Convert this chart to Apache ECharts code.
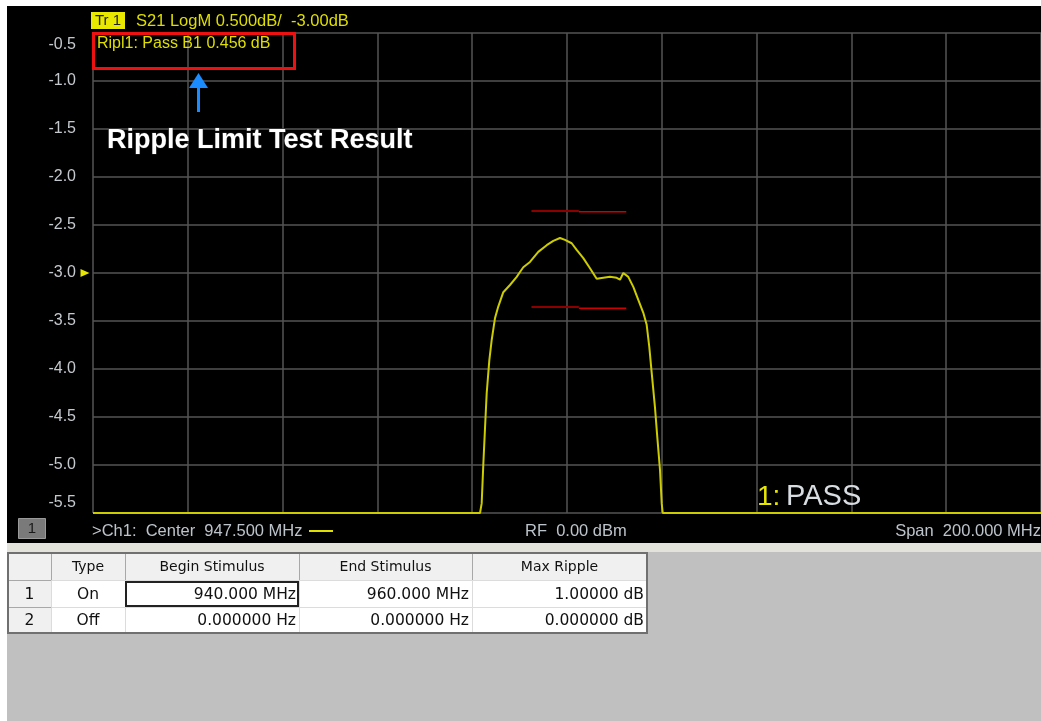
<!DOCTYPE html>
<html><head><meta charset="utf-8">
<script src="https://cdn.jsdelivr.net/npm/echarts@6/dist/echarts.min.js"></script>
<style>html,body{margin:0;padding:0;background:#fff;overflow:hidden}#c{width:1041px;height:721px}</style>
</head><body><div id="c"></div>
<script>
// ---- data ----
const freqMHz = [847.5, 929.15, 929.5, 929.84, 930.2, 930.56, 931.11, 931.61, 932.31, 933.0, 934.06, 935.47, 936.89, 937.58, 938.28, 939.69, 941.44, 943.22, 944.61, 946.02, 947.08, 948.49, 949.54, 950.94, 952.35, 953.76, 955.16, 956.57, 957.98, 958.68, 959.38, 960.43, 961.49, 962.54, 963.6, 964.31, 964.86, 965.37, 966.06, 966.55, 967.12, 967.48, 967.69, 1047.5];
const s21dB = [-5.5, -5.5, -5.40, -5.0, -4.62, -4.25, -3.91, -3.70, -3.47, -3.35, -3.20, -3.125, -3.04, -2.99, -2.94, -2.885, -2.78, -2.71, -2.665, -2.635, -2.655, -2.69, -2.76, -2.845, -2.95, -3.06, -3.05, -3.04, -3.05, -3.07, -3.0, -3.04, -3.145, -3.28, -3.415, -3.54, -3.77, -4.04, -4.40, -4.71, -5.05, -5.40, -5.5, -5.5];
const limitSegFreq = [[940, 950], [950, 960]];
const limitUpperdB = [-2.355, -2.362];
const limitLowerdB = [-3.354, -3.368];
const refLevel = -3.0;
const yTickValues = [-5.5, -5.0, -4.5, -4.0, -3.5, -3.0, -2.5, -2.0, -1.5, -1.0, -0.5];
const yTickLabels = ['-5.5', '-5.0', '-4.5', '-4.0', '-3.5', '-3.0', '-2.5', '-2.0', '-1.5', '-1.0', '-0.5'];
const xStartMHz = 847.5, xStopMHz = 1047.5, xDivMHz = 20;
const traceTitle = 'S21 LogM 0.500dB/  -3.00dB';
const rippleResult = 'Ripl1: Pass B1 0.456 dB';
const annotation = 'Ripple Limit Test Result';
const statusCenter = '>Ch1:  Center  947.500 MHz';
const statusRF = 'RF  0.00 dBm';
const statusSpan = 'Span  200.000 MHz';
const tableHeader = ['', 'Type', 'Begin Stimulus', 'End Stimulus', 'Max Ripple'];
const tableRows = [
  ['1', 'On', '940.000 MHz', '960.000 MHz', '1.00000 dB'],
  ['2', 'Off', '0.000000 Hz', '0.000000 Hz', '0.000000 dB']
];

// ---- layout ----
const chart = echarts.init(document.getElementById('c'), null, {renderer: 'canvas'});
const g = [];
g.push({type: 'rect', z: -10, silent: true, shape: {x: 7, y: 6, width: 1034, height: 537}, style: {fill: '#000'}});
g.push({type: 'rect', z: -10, silent: true, shape: {x: 7, y: 543, width: 1034, height: 9}, style: {fill: '#e4e3db'}});
g.push({type: 'rect', z: -10, silent: true, shape: {x: 7, y: 552, width: 1034, height: 169}, style: {fill: '#c0c0c0'}});
// header
g.push({type: 'rect', shape: {x: 91, y: 12, width: 34, height: 17}, style: {fill: '#e8e800'}});
g.push({type: 'text', x: 108, y: 21, style: {text: 'Tr 1', fill: '#222', font: '15px "Liberation Sans", Arial, sans-serif', align: 'center', verticalAlign: 'middle'}});
g.push({type: 'text', x: 136, y: 21, style: {text: traceTitle, fill: '#dede00', font: '16.5px "Liberation Sans", Arial, sans-serif', align: 'left', verticalAlign: 'middle'}});
g.push({type: 'text', x: 97, y: 44, z: 10, style: {text: rippleResult, fill: '#dede00', font: '16px "Liberation Sans", Arial, sans-serif', align: 'left', verticalAlign: 'middle'}});
g.push({type: 'rect', z: 10, shape: {x: 93.5, y: 33.5, width: 201, height: 35}, style: {fill: 'none', stroke: '#ee1111', lineWidth: 3}});
// blue arrow
g.push({type: 'rect', z: 10, shape: {x: 197, y: 84, width: 3, height: 28}, style: {fill: '#1a8cff'}});
g.push({type: 'polygon', z: 10, shape: {points: [[189, 88], [198.5, 73], [208, 88]]}, style: {fill: '#1a8cff'}});
g.push({type: 'text', x: 107, y: 141, z: 10, style: {text: annotation, fill: '#fff', font: 'bold 27px "Liberation Sans", Arial, sans-serif', align: 'left', verticalAlign: 'middle', stroke: '#222', lineWidth: 1}});
// PASS
g.push({type: 'text', x: 757, y: 497, z: 10, style: {text: '1:', fill: '#e6e600', font: '28px "Liberation Sans", Arial, sans-serif', align: 'left', verticalAlign: 'middle'}});
g.push({type: 'text', x: 786, y: 497, z: 10, style: {text: 'PASS', fill: '#d8dde2', font: '29px "Liberation Sans", Arial, sans-serif', align: 'left', verticalAlign: 'middle'}});
// status bar
g.push({type: 'rect', shape: {x: 18.5, y: 518.5, width: 27, height: 20}, style: {fill: '#7a7a7a', stroke: '#9a9a9a', lineWidth: 1}});
g.push({type: 'text', x: 32, y: 529, style: {text: '1', fill: '#1a1a1a', font: '15px "Liberation Sans", Arial, sans-serif', align: 'center', verticalAlign: 'middle'}});
g.push({type: 'text', x: 92, y: 531, style: {text: statusCenter, fill: '#bcc3ca', font: '16.5px "Liberation Sans", Arial, sans-serif', align: 'left', verticalAlign: 'middle'}});
g.push({type: 'rect', shape: {x: 309, y: 530, width: 24, height: 2}, style: {fill: '#e0e000'}});
g.push({type: 'text', x: 525, y: 531, style: {text: statusRF, fill: '#bcc3ca', font: '16.5px "Liberation Sans", Arial, sans-serif', align: 'left', verticalAlign: 'middle'}});
g.push({type: 'text', x: 1041, y: 531, style: {text: statusSpan, fill: '#bcc3ca', font: '16.5px "Liberation Sans", Arial, sans-serif', align: 'right', verticalAlign: 'middle'}});
// table
const colX = [8, 51, 125, 299, 472, 647];
const rowY = [553, 580, 607, 633];
const allRows = [tableHeader].concat(tableRows);
for (let r = 0; r < allRows.length; r++) {
  for (let c = 0; c < 5; c++) {
    const isHead = r === 0 || c === 0;
    g.push({type: 'rect', shape: {x: colX[c] + 0.5, y: rowY[r] + 0.5, width: colX[c + 1] - colX[c], height: rowY[r + 1] - rowY[r]},
      style: {fill: isHead ? '#f0f0f0' : '#fff', stroke: isHead ? '#a8a8a8' : '#dcdcdc', lineWidth: 1}});
    const txt = allRows[r][c];
    if (!txt) continue;
    const right = r > 0 && c >= 2;
    g.push({type: 'text', x: right ? colX[c + 1] - 3 : (colX[c] + colX[c + 1]) / 2, y: (rowY[r] + rowY[r + 1]) / 2 + 1,
      style: {text: txt, fill: '#111', font: (r === 0 ? '14px' : '15.5px') + ' "DejaVu Sans", Verdana, sans-serif',
        align: right ? 'right' : 'center', verticalAlign: 'middle'}});
  }
}
g.push({type: 'rect', shape: {x: 8, y: 553, width: 639, height: 80}, style: {fill: 'none', stroke: '#707070', lineWidth: 2}});
g.push({type: 'rect', shape: {x: 126, y: 582, width: 172, height: 24}, style: {fill: 'none', stroke: '#222', lineWidth: 2}});

const trace = freqMHz.map((f, i) => [f, s21dB[i]]);
const limitSeries = [];
limitSegFreq.forEach((seg, i) => {
  const col = i === 0 ? '#8c0000' : '#d00000';
  const w = i === 0 ? 2 : 1.5;
  limitSeries.push({type: 'line', data: [[seg[0], limitUpperdB[i]], [seg[1], limitUpperdB[i]]], showSymbol: false, silent: true, lineStyle: {color: col, width: w}, z: 3});
  limitSeries.push({type: 'line', data: [[seg[0], limitLowerdB[i]], [seg[1], limitLowerdB[i]]], showSymbol: false, silent: true, lineStyle: {color: col, width: w}, z: 3});
});

chart.setOption({
  backgroundColor: '#fff',
  animation: false,
  grid: {left: 93, top: 33, width: 948, height: 480, containLabel: false},
  xAxis: {type: 'value', min: xStartMHz, max: xStopMHz, interval: xDivMHz,
    axisLabel: {show: false}, axisTick: {show: false}, axisLine: {show: false},
    splitLine: {show: true, lineStyle: {color: '#555', width: 1.5}}},
  yAxis: {type: 'value', min: yTickValues[0], max: yTickValues[yTickValues.length - 1], interval: 0.5,
    axisTick: {show: false}, axisLine: {show: false},
    splitLine: {show: true, lineStyle: {color: '#555', width: 1.5}},
    axisLabel: {margin: 17, color: '#c4c9ce', fontSize: 16, fontFamily: '"Liberation Sans", Arial, sans-serif',
      formatter: function (v) {
        const i = yTickValues.findIndex(t => Math.abs(t - v) < 1e-6);
        const s = i >= 0 ? yTickLabels[i] : '';
        if (i === yTickValues.length - 1) return '{t|' + s + '}';
        if (i === 0) return '{b|' + s + '}';
        return s;
      },
      rich: {
        t: {color: '#c4c9ce', fontSize: 16, fontFamily: '"Liberation Sans", Arial, sans-serif', padding: [24, 0, 0, 0]},
        b: {color: '#c4c9ce', fontSize: 16, fontFamily: '"Liberation Sans", Arial, sans-serif', padding: [0, 0, 20, 0]}
      }}},
  graphic: {elements: g},
  series: [
    {type: 'line', data: trace, showSymbol: false, silent: true, z: 4,
      lineStyle: {color: '#cccc00', width: 2},
      markPoint: {silent: true, symbol: 'triangle', symbolSize: [8, 9], symbolRotate: -90, symbolOffset: [-8, 0],
        label: {show: false}, itemStyle: {color: '#e6e600'},
        data: [{coord: [xStartMHz, refLevel]}]}}
  ].concat(limitSeries)
});
</script></body></html>
